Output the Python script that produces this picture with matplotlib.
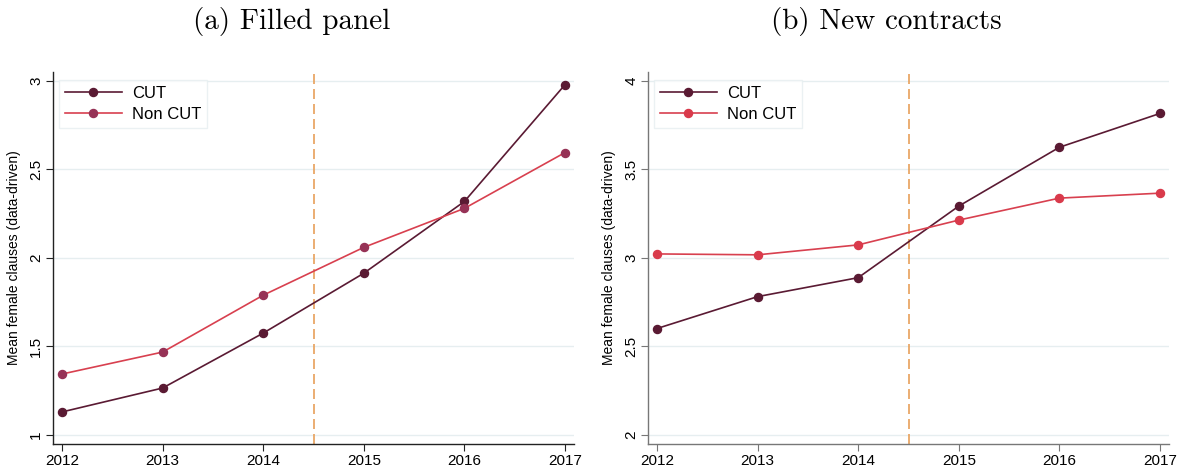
import numpy as np
import matplotlib
matplotlib.use("Agg")
import matplotlib.pyplot as plt

years = [2012, 2013, 2014, 2015, 2016, 2017]

# (a) Filled panel
cut_a = [1.13, 1.265, 1.575, 1.913, 2.318, 2.977]
noncut_a = [1.344, 1.468, 1.789, 2.059, 2.279, 2.594]

# (b) New contracts
cut_b = [2.601, 2.781, 2.888, 3.292, 3.624, 3.815]
noncut_b = [3.022, 3.017, 3.073, 3.213, 3.337, 3.365]

titles = ["(a) Filled panel", "(b) New contracts"]
yticks_a = [1, 1.5, 2, 2.5, 3]
yticks_b = [2, 2.5, 3, 3.5, 4]
ytick_labels_a = ["1", "1.5", "2", "2.5", "3"]
ytick_labels_b = ["2", "2.5", "3", "3.5", "4"]
treat_year = 2014.5

plt.rcParams["font.family"] = ["Liberation Sans", "DejaVu Sans"]

CUT_C = "#5a1a33"
LINE_C = "#d8404f"
MARK_A = "#963256"
MARK_B = "#d93a4b"
VLINE_C = "#e8a05a"
GRID_C = "#e6eef0"

fig = plt.figure(figsize=(11.81, 4.74), dpi=100)
W, H = 1181, 474
ax_a = fig.add_axes([53 / W, (H - 444) / H, 521 / W, 372 / H])
ax_b = fig.add_axes([648 / W, (H - 444) / H, 521 / W, 372 / H])

panels = [
    (ax_a, cut_a, noncut_a, MARK_A, yticks_a, ytick_labels_a, (0.949, 3.049), "#222222", 292),
    (ax_b, cut_b, noncut_b, MARK_B, yticks_b, ytick_labels_b, (1.949, 4.049), "#777777", 886),
]

for i, (ax, cut, noncut, mark_c, yt, ytl, ylim, spine_c, tx) in enumerate(panels):
    ax.plot(years, cut, color=CUT_C, lw=1.2, marker="o", ms=5.8,
            mfc=CUT_C, mec=CUT_C, label="CUT", zorder=3)
    ax.plot(years, noncut, color=LINE_C, lw=1.2, marker="o", ms=5.8,
            mfc=mark_c, mec=mark_c, label="Non CUT", zorder=3)
    ax.axvline(treat_year, color=VLINE_C, lw=1.2, ls=(0, (6, 3)), zorder=2)

    ax.set_xlim(2011.91, 2017.09)
    ax.set_ylim(*ylim)
    ax.set_xticks(years)
    ax.set_xticklabels([str(y) for y in years], fontsize=11)
    ax.set_yticks(yt)
    ax.set_yticklabels(ytl, fontsize=11, rotation=90, va="center")
    ax.grid(axis="y", color=GRID_C, lw=1.0)
    ax.set_axisbelow(True)
    for s in ["top", "right"]:
        ax.spines[s].set_visible(False)
    for s in ["left", "bottom"]:
        ax.spines[s].set_color(spine_c)
        ax.spines[s].set_linewidth(1.0)
    ax.tick_params(axis="both", length=5, width=0.8, color=spine_c, pad=2)
    ax.set_ylabel("Mean female clauses (data-driven)", fontsize=10, labelpad=6)

    leg = ax.legend(loc="upper left", bbox_to_anchor=(-0.004, 1.0), fontsize=12,
                    frameon=True, fancybox=False, edgecolor=GRID_C,
                    handlelength=3.4, handletextpad=0.6, borderpad=0.35,
                    labelspacing=0.35)
    leg.get_frame().set_linewidth(1.0)

    fig.text(tx / W, 0.955, titles[i], family="cmr10", fontsize=21,
             ha="center", va="center")

fig.savefig("out.png", dpi=100)
